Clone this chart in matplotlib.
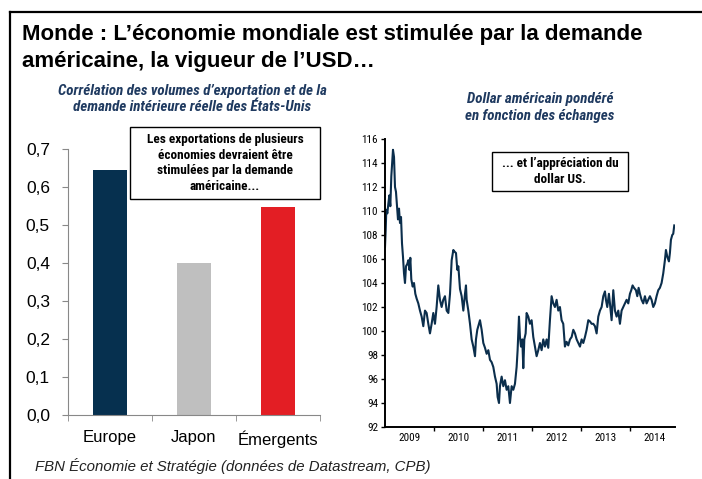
import numpy as np
import matplotlib.pyplot as plt
from matplotlib import font_manager
from matplotlib.patches import Rectangle
from matplotlib.lines import Line2D

# Bar chart data: correlation of export volumes with US real domestic demand
regions = ['Europe', 'Japon', 'Émergents']
correlation = [0.645, 0.40, 0.547]
bar_colors = ['#06304F', '#BFBFBF', '#E31E24']
bar_yticks = [0.0, 0.1, 0.2, 0.3, 0.4, 0.5, 0.6, 0.7]

# Trade-weighted US dollar (decimal year, index level)
usd_year = [
    2009.000, 2009.014, 2009.027, 2009.048, 2009.068, 2009.088, 2009.109, 2009.129,
    2009.150, 2009.163, 2009.184, 2009.204, 2009.224, 2009.245, 2009.265, 2009.286,
    2009.306, 2009.327, 2009.347, 2009.367, 2009.388, 2009.408, 2009.429, 2009.456,
    2009.476, 2009.497, 2009.517, 2009.537, 2009.565, 2009.592, 2009.619, 2009.646,
    2009.680, 2009.714, 2009.748, 2009.782, 2009.816, 2009.850, 2009.884, 2009.918,
    2009.952, 2009.986, 2010.020, 2010.054, 2010.088, 2010.122, 2010.156, 2010.190,
    2010.224, 2010.259, 2010.293, 2010.327, 2010.361, 2010.395, 2010.422, 2010.449,
    2010.476, 2010.497, 2010.531, 2010.565, 2010.599, 2010.633, 2010.653, 2010.667,
    2010.701, 2010.735, 2010.769, 2010.803, 2010.837, 2010.857, 2010.884, 2010.905,
    2010.939, 2010.973, 2011.007, 2011.041, 2011.075, 2011.109, 2011.143, 2011.177,
    2011.211, 2011.245, 2011.279, 2011.299, 2011.327, 2011.347, 2011.381, 2011.415,
    2011.449, 2011.483, 2011.517, 2011.551, 2011.585, 2011.619, 2011.653, 2011.687,
    2011.707, 2011.735, 2011.755, 2011.776, 2011.803, 2011.823, 2011.844, 2011.871,
    2011.891, 2011.925, 2011.959, 2011.993, 2012.027, 2012.061, 2012.095, 2012.129,
    2012.163, 2012.197, 2012.231, 2012.265, 2012.299, 2012.333, 2012.367, 2012.401,
    2012.435, 2012.469, 2012.503, 2012.537, 2012.571, 2012.605, 2012.639, 2012.673,
    2012.707, 2012.741, 2012.776, 2012.810, 2012.844, 2012.878, 2012.912, 2012.946,
    2012.980, 2013.014, 2013.048, 2013.082, 2013.116, 2013.150, 2013.184, 2013.218,
    2013.252, 2013.286, 2013.320, 2013.354, 2013.388, 2013.422, 2013.456, 2013.490,
    2013.510, 2013.537, 2013.571, 2013.592, 2013.626, 2013.660, 2013.694, 2013.728,
    2013.762, 2013.796, 2013.830, 2013.864, 2013.898, 2013.932, 2013.966, 2014.000,
    2014.027, 2014.054, 2014.082, 2014.122, 2014.150, 2014.177, 2014.204, 2014.238,
    2014.272, 2014.306, 2014.340, 2014.374, 2014.408, 2014.442, 2014.476, 2014.510,
    2014.544, 2014.578, 2014.612, 2014.646, 2014.680, 2014.714, 2014.735, 2014.762,
    2014.796, 2014.816, 2014.837, 2014.864, 2014.884, 2014.905,
]
usd_index = [
    107.0, 108.4, 110.1, 109.8, 110.6, 111.3, 110.4, 112.9,
    114.3, 115.1, 114.5, 112.0, 111.6, 110.4, 109.3, 110.2,
    109.0, 109.5, 107.3, 106.2, 104.8, 104.0, 105.4, 105.6,
    105.9, 105.1, 106.1, 104.3, 103.7, 104.0, 103.1, 102.7,
    102.3, 101.7, 101.2, 100.4, 101.7, 101.5, 100.6, 99.8,
    100.6, 101.5, 100.6, 102.0, 103.8, 102.6, 102.0, 102.6,
    102.9, 101.7, 101.5, 103.1, 105.9, 106.75, 106.6, 106.5,
    105.1, 105.4, 103.5, 102.9, 101.7, 103.1, 103.8, 102.6,
    101.7, 100.6, 99.3, 98.7, 97.9, 99.3, 100.1, 100.4,
    100.9, 100.1, 99.0, 98.6, 98.1, 98.4, 97.6, 97.4,
    97.0, 96.2, 95.6, 94.5, 94.0, 95.4, 96.2, 95.4,
    95.9, 95.1, 95.4, 94.0, 95.4, 95.1, 95.6, 97.0,
    98.4, 101.2, 99.5, 98.7, 99.3, 96.9, 99.3, 99.8,
    101.5, 101.2, 100.6, 100.9, 99.5, 98.7, 97.9, 98.4,
    99.0, 98.4, 99.3, 98.7, 99.3, 98.6, 100.9, 102.9,
    102.3, 102.0, 102.6, 101.7, 102.0, 100.9, 100.6, 98.7,
    99.1, 98.8, 99.3, 99.5, 100.1, 99.8, 99.3, 99.0,
    98.7, 99.3, 99.0, 99.5, 100.1, 100.9, 100.8, 100.6,
    100.6, 100.4, 99.8, 101.2, 101.7, 102.0, 102.9, 103.3,
    102.6, 102.0, 103.1, 102.3, 100.9, 103.4, 101.7, 101.2,
    101.7, 100.6, 101.7, 102.0, 102.3, 102.6, 102.3, 103.1,
    103.4, 103.8, 103.6, 103.4, 102.9, 103.6, 103.1, 102.6,
    102.3, 102.9, 102.3, 102.6, 102.9, 102.6, 102.0, 102.3,
    102.9, 103.4, 103.6, 104.0, 104.8, 105.9, 106.75, 106.2,
    105.8, 106.5, 107.6, 108.0, 108.1, 108.8,
]
years = [2009, 2010, 2011, 2012, 2013, 2014]

plt.rcParams['font.family'] = ['Liberation Sans', 'DejaVu Sans']

# pick a condensed face to stand in for Arial Narrow
installed = {f.name for f in font_manager.fontManager.ttflist}
narrow_name = next((n for n in ['Liberation Sans Narrow', 'Arial Narrow', 'Roboto Condensed',
                                'PT Sans Narrow', 'Asap Condensed', 'Archivo Narrow',
                                'Barlow Condensed'] if n in installed), 'Liberation Sans')
narrow = [narrow_name, 'DejaVu Sans']

fig = plt.figure(figsize=(7.02, 4.79), dpi=100)
W, H = 702, 479


def box(x0, y0, x1, y1):
    # pixel box (top-left origin) -> figure fraction rect
    return [x0 / W, 1 - y1 / H, (x1 - x0) / W, (y1 - y0) / H]


# Frame lines (top and left only)
fig.add_artist(Line2D([10 / W, 1], [1 - 12 / H, 1 - 12 / H], color='black', lw=1.6))
fig.add_artist(Line2D([10 / W, 10 / W], [0, 1 - 12 / H], color='black', lw=1.6))

fig.text(22 / W, 1 - 40 / H, "Monde : L’économie mondiale est stimulée par la demande",
         fontsize=16, fontweight='bold', ha='left', va='baseline')
fig.text(22 / W, 1 - 67 / H, "américaine, la vigueur de l’USD…",
         fontsize=16, fontweight='bold', ha='left', va='baseline')

sub_color = '#1F3A60'
sub_kw = dict(fontsize=10.8, fontweight='bold', style='italic', color=sub_color,
              family=narrow, ha='center', va='center')
fig.text(192 / W, 1 - 91 / H, "Corrélation des volumes d’exportation et de la", **sub_kw)
fig.text(192 / W, 1 - 107 / H, "demande intérieure réelle des États-Unis", **sub_kw)
fig.text(540 / W, 1 - 99 / H, "Dollar américain pondéré", **sub_kw)
fig.text(540 / W, 1 - 116 / H, "en fonction des échanges", **sub_kw)

# Left: bar chart
ax1 = fig.add_axes(box(68, 149, 320, 415))
x = np.arange(len(regions))
ax1.bar(x, correlation, width=0.4, color=bar_colors)
ax1.set_xlim(-0.5, len(regions) - 0.5)
ax1.set_ylim(0, 0.7)
ax1.set_yticks(bar_yticks)
ax1.set_yticklabels([f"{v:.1f}".replace('.', ',') for v in bar_yticks], fontsize=12.5)
ax1.set_xticks(x)
ax1.set_xticklabels(regions, fontsize=12)
ax1.set_xticks(np.arange(-0.5, len(regions)), minor=True)
ax1.tick_params(axis='x', which='major', length=0, pad=11)
ax1.tick_params(axis='x', which='minor', length=4, color='#888888')
ax1.tick_params(axis='y', length=4, color='#888888', pad=9)
for s in ['top', 'right']:
    ax1.spines[s].set_visible(False)
for s in ['left', 'bottom']:
    ax1.spines[s].set_color('#888888')
    ax1.spines[s].set_linewidth(0.8)

fig.add_artist(Rectangle((130 / W, 1 - 199 / H), 190 / W, 72 / H, transform=fig.transFigure,
                         facecolor='white', edgecolor='black', lw=1))
fig.text(225 / W, 1 - 163 / H,
         "Les exportations de plusieurs\néconomies devraient être\nstimulées par la demande\naméricaine...",
         fontsize=9.5, fontweight='bold', family=narrow, ha='center', va='center', linespacing=1.25)

# Right: USD line
ax2 = fig.add_axes(box(385, 139, 675, 427))
ax2.plot(usd_year, usd_index, color='#0B2E4C', lw=1.5)
ax2.set_xlim(2009, 2014.92)
ax2.set_ylim(92, 116)
ax2.set_yticks(np.arange(92, 117, 2))
ax2.set_xticks([y + 0.5 for y in years])
ax2.set_xticklabels([str(y) for y in years])
ax2.set_xticks(years[1:], minor=True)
ax2.tick_params(axis='x', which='major', length=0, pad=4)
ax2.tick_params(axis='x', which='minor', length=3, width=1)
ax2.tick_params(axis='y', length=3, width=1, pad=2)
for lab in ax2.get_xticklabels() + ax2.get_yticklabels():
    lab.set_fontsize(8)
    lab.set_family(narrow)
for s in ['top', 'right']:
    ax2.spines[s].set_visible(False)
for s in ['left', 'bottom']:
    ax2.spines[s].set_linewidth(1.4)

fig.add_artist(Rectangle((492 / W, 1 - 191 / H), 136 / W, 39 / H, transform=fig.transFigure,
                         facecolor='white', edgecolor='black', lw=1))
fig.text(560 / W, 1 - 171.5 / H, "... et l’appréciation du\ndollar US.",
         fontsize=9.5, fontweight='bold', family=narrow, ha='center', va='center', linespacing=1.25)

fig.text(35 / W, 1 - 466 / H, "FBN Économie et Stratégie (données de Datastream, CPB)",
         fontsize=10.8, style='italic', color='#222222', ha='left', va='center')

fig.savefig('out.png', dpi=100)
